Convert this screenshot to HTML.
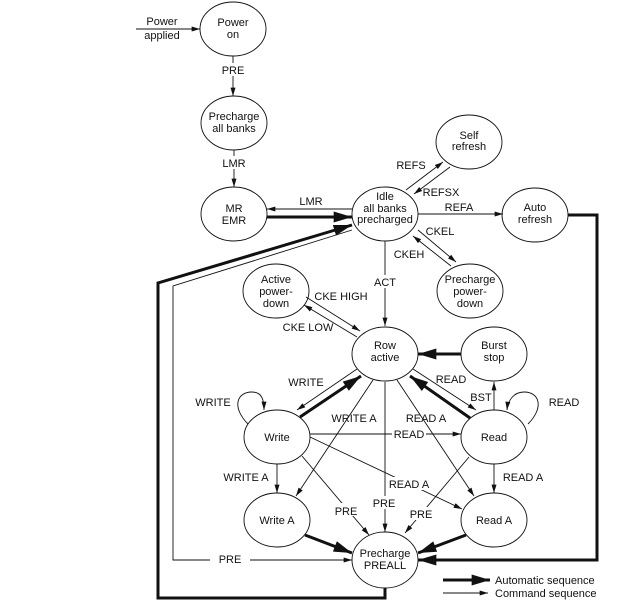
<!DOCTYPE html>
<html><head><meta charset="utf-8"><style>
html,body{margin:0;padding:0;background:#fff}
svg{display:block}
text{font-family:"Liberation Sans",sans-serif;font-size:11px;fill:#111;text-anchor:middle}
.w{fill:#fff}
</style></head><body>
<svg width="642" height="608" viewBox="0 0 642 608" xmlns="http://www.w3.org/2000/svg">
<defs>
<marker id="a" viewBox="0 0 10 6" refX="10" refY="3" markerWidth="9" markerHeight="5" markerUnits="userSpaceOnUse" orient="auto"><path d="M0,0L10,3L0,6z" fill="#111"/></marker>
<marker id="b" viewBox="0 0 10 6" refX="10" refY="3" markerWidth="20" markerHeight="11" markerUnits="userSpaceOnUse" orient="auto"><path d="M0,0L10,3L0,6z" fill="#111"/></marker>
</defs>
<g stroke="#111" fill="none">
<g stroke-width="0.9">
<ellipse cx="233" cy="29" rx="33" ry="27"/>
<ellipse cx="234" cy="123" rx="33" ry="27"/>
<ellipse cx="234" cy="214" rx="33" ry="27"/>
<ellipse cx="385" cy="214" rx="33" ry="27"/>
<ellipse cx="469" cy="142" rx="33" ry="27"/>
<ellipse cx="535" cy="215" rx="33" ry="27"/>
<ellipse cx="276" cy="291" rx="33" ry="27"/>
<ellipse cx="470" cy="291" rx="33" ry="27"/>
<ellipse cx="385" cy="354" rx="33" ry="27"/>
<ellipse cx="494" cy="354" rx="33" ry="27"/>
<ellipse cx="277" cy="437" rx="33" ry="27"/>
<ellipse cx="494" cy="437" rx="33" ry="27"/>
<ellipse cx="277" cy="520" rx="33" ry="27"/>
<ellipse cx="494" cy="520" rx="33" ry="27"/>
<ellipse cx="385" cy="560" rx="33" ry="28"/>
</g>
<g stroke-width="0.9" marker-end="url(#a)">
<path d="M136,29H200"/>
<path d="M233,56V96"/>
<path d="M234,150V187"/>
<path d="M352,209H267"/>
<path d="M352,230L173,286V560H352"/>
<path d="M406,190L443,162"/>
<path d="M450,167L414,194"/>
<path d="M418,214H503"/>
<path d="M418,230L456,262"/>
<path d="M451,266L413,236"/>
<path d="M385,241V326"/>
<path d="M306,297L360,331"/>
<path d="M357,337L304,305"/>
<path d="M357,369L297,410"/>
<path d="M413,369L476,410"/>
<path d="M494,410V382"/>
<path d="M373,380L296,496"/>
<path d="M397,380L474,496"/>
<path d="M310,434H461"/>
<path d="M310,437L462,509"/>
<path d="M277,464V493"/>
<path d="M494,464V493"/>
<path d="M302,456L369,535"/>
<path d="M385,382V532"/>
<path d="M469,457L405,533"/>
<path d="M248,424C232,408 236,392 252,392C262,392 264,400 264,410"/>
<path d="M528,424C544,408 540,392 524,392C514,392 508,400 507,410"/>
<path d="M443,593H488"/>
</g>
<g stroke-width="3" marker-end="url(#b)">
<path d="M267,217H352"/>
<path d="M385,588V598H158V283L352,225"/>
<path d="M568,215H597V560H418"/>
<path d="M461,354H418"/>
<path d="M300,417L361,376"/>
<path d="M470,418L410,376"/>
<path d="M305,535L352,553"/>
<path d="M466,535L418,553"/>
<path d="M443,580H490"/>
</g>
</g>
<g>
<rect class="w" x="222" y="63" width="22" height="13"/>
<rect class="w" x="222" y="156" width="22" height="13"/>
<rect class="w" x="374" y="275" width="22" height="13"/>
<rect class="w" x="210" y="552" width="40" height="13"/>
<rect class="w" x="370" y="496" width="30" height="13"/>
<rect class="w" x="392" y="428" width="34" height="12"/>
<rect class="w" x="386" y="477" width="46" height="13"/>
<rect class="w" x="330" y="503" width="30" height="13"/>
<rect class="w" x="408" y="507" width="28" height="13"/>
</g>
<text x="162" y="25">Power</text><text x="162" y="39">applied</text>
<text x="233" y="26">Power</text><text x="233" y="38">on</text>
<text x="233" y="74">PRE</text>
<text x="234" y="120">Precharge</text><text x="234" y="132">all banks</text>
<text x="234" y="167">LMR</text>
<text x="234" y="212">MR</text><text x="234" y="224">EMR</text>
<text x="311" y="205">LMR</text>
<text x="385" y="200">Idle</text><text x="385" y="212">all banks</text><text x="385" y="223">precharged</text>
<text x="469" y="139">Self</text><text x="469" y="150">refresh</text>
<text x="411" y="169">REFS</text>
<text x="441" y="196">REFSX</text>
<text x="459" y="211">REFA</text>
<text x="535" y="211">Auto</text><text x="535" y="223">refresh</text>
<text x="440" y="235">CKEL</text>
<text x="409" y="258">CKEH</text>
<text x="385" y="286">ACT</text>
<text x="276" y="283">Active</text><text x="276" y="295">power-</text><text x="276" y="307">down</text>
<text x="470" y="283">Precharge</text><text x="470" y="295">power-</text><text x="470" y="307">down</text>
<text x="341" y="300">CKE HIGH</text>
<text x="308" y="331">CKE LOW</text>
<text x="385" y="349">Row</text><text x="385" y="361">active</text>
<text x="494" y="349">Burst</text><text x="494" y="361">stop</text>
<text x="306" y="386">WRITE</text>
<text x="451" y="383">READ</text>
<text x="213" y="406">WRITE</text>
<text x="564" y="406">READ</text>
<text x="481" y="401">BST</text>
<text x="354" y="422">WRITE A</text>
<text x="426" y="422">READ A</text>
<text x="277" y="441">Write</text>
<text x="409" y="438">READ</text>
<text x="494" y="441">Read</text>
<text x="246" y="481">WRITE A</text>
<text x="523" y="481">READ A</text>
<text x="409" y="488">READ A</text>
<text x="384" y="507">PRE</text>
<text x="346" y="515">PRE</text>
<text x="421" y="518">PRE</text>
<text x="277" y="524">Write A</text>
<text x="494" y="524">Read A</text>
<text x="230" y="563">PRE</text>
<text x="385" y="557">Precharge</text><text x="385" y="569">PREALL</text>
<text x="495" y="584" style="text-anchor:start">Automatic sequence</text>
<text x="495" y="597" style="text-anchor:start">Command sequence</text>
</svg>
</body></html>
